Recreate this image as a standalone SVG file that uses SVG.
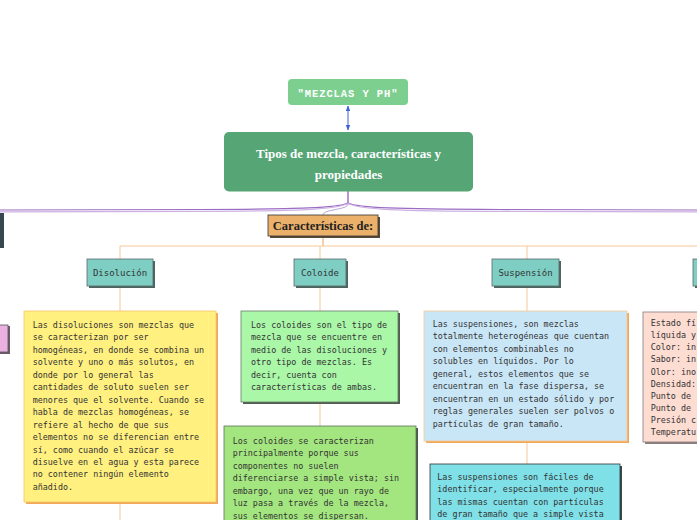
<svg xmlns="http://www.w3.org/2000/svg" width="697" height="520" viewBox="0 0 697 520">
<defs>
<marker id="ah" viewBox="0 0 10 10" refX="9" refY="5" markerWidth="6" markerHeight="6" orient="auto-start-reverse">
<path d="M0,1 L10,5 L0,9 z" fill="#3d62d8"/>
</marker>
<style>
.mono{font-family:"DejaVu Sans Mono","Liberation Mono",monospace;font-size:8.4px;fill:#333}
.lbl{font-family:"DejaVu Sans Mono","Liberation Mono",monospace;font-size:9px;fill:#333;text-anchor:middle}
.serif{font-family:"Liberation Serif","DejaVu Serif",serif;font-weight:bold}
.teal{fill:#7ecec4;stroke:#5a6a68;stroke-width:0.8}
.tsh{fill:#4d6561}
.con{fill:none;stroke:#f8c898;stroke-width:1}
</style>
</defs>
<rect width="697" height="520" fill="#ffffff"/>

<g id="connectors">
<line x1="348" y1="106" x2="348" y2="130" stroke="#3d62d8" stroke-width="1" marker-start="url(#ah)" marker-end="url(#ah)"/>
<path d="M348,191 L348,203" stroke="#8e5cb8" stroke-width="1.3" fill="none"/>
<path d="M348,203 C338,208 300,209 200,209.5 L0,210" stroke="#9c6cc4" stroke-width="1.2" fill="none"/>
<path d="M348,203.5 C336,209.5 300,211 200,211.3 L0,211.8" stroke="#cbb2e2" stroke-width="1.2" fill="none"/>
<path d="M348,203 C358,208 396,209 500,209.5 L697,210" stroke="#9c6cc4" stroke-width="1.2" fill="none"/>
<path d="M348,203.5 C360,209.5 396,211 500,211.3 L697,211.8" stroke="#cbb2e2" stroke-width="1.2" fill="none"/>
<path d="M348,204 C348,210 323,209 323,215" stroke="#a88cd0" stroke-width="0.8" fill="none"/>
<line x1="323" y1="236" x2="323" y2="246" stroke="#f0a050" stroke-width="1"/>
<path class="con" d="M120,259 L120,246 L697,246"/>
<line class="con" x1="320" y1="246" x2="320" y2="259"/>
<line class="con" x1="527" y1="246" x2="527" y2="259"/>
<line class="con" x1="120" y1="286" x2="120" y2="311"/>
<line class="con" x1="320" y1="286" x2="320" y2="311"/>
<line class="con" x1="527" y1="286" x2="527" y2="311"/>
<line class="con" x1="120" y1="503" x2="120" y2="520"/>
<line class="con" x1="320" y1="403" x2="320" y2="426"/>
<line class="con" x1="527" y1="442" x2="527" y2="464"/>
</g>

<g id="title">
<rect x="288" y="79" width="120" height="26" rx="4" fill="#7dcf8f"/>
<text x="348" y="96.5" text-anchor="middle" font-family="Liberation Mono, DejaVu Sans Mono, monospace" font-size="10.5" font-weight="bold" letter-spacing="0.9" fill="#ffffff">"MEZCLAS Y PH"</text>
</g>

<g id="main">
<rect x="224" y="132" width="249" height="59.5" rx="5" fill="#55a575"/>
<text class="serif" x="348.5" y="157.5" text-anchor="middle" font-size="13" fill="#ffffff">Tipos de mezcla, características y</text>
<text class="serif" x="348.5" y="178.5" text-anchor="middle" font-size="13" fill="#ffffff">propiedades</text>
</g>

<g id="left-dark">
<rect x="0" y="213" width="4" height="35" fill="#37474f"/>
</g>

<g id="left-pink">
<rect x="0" y="326" width="10" height="28" fill="#6e5a6c"/>
<rect x="-2" y="325" width="10" height="27" fill="#eab0e0" stroke="#555" stroke-width="0.8"/>
</g>

<g id="caracteristicas">
<rect x="270" y="217" width="110" height="21" fill="#5a4a3a"/>
<rect x="268" y="215" width="110" height="21" fill="#ebb16a" stroke="#333" stroke-width="0.8"/>
<text class="serif" x="323" y="230" text-anchor="middle" font-size="12.5" fill="#222">Características de:</text>
</g>

<g id="disolucion">
<rect class="tsh" x="89" y="261" width="66" height="27"/>
<rect class="teal" x="87" y="259" width="66" height="27"/>
<text class="lbl" x="120" y="275.5">Disolución</text>
</g>

<g id="coloide">
<rect class="tsh" x="296" y="261" width="52" height="27"/>
<rect class="teal" x="294" y="259" width="52" height="27"/>
<text class="lbl" x="320" y="275.5">Coloide</text>
</g>

<g id="suspension">
<rect class="tsh" x="494" y="261" width="67" height="27"/>
<rect class="teal" x="492" y="259" width="67" height="27"/>
<text class="lbl" x="525.5" y="275.5">Suspensión</text>
</g>

<g id="right-label">
<rect class="tsh" x="695" y="261" width="10" height="27"/>
<rect class="teal" x="693" y="259" width="10" height="27"/>
</g>

<g id="disolucion-text">
<rect x="26" y="313" width="192" height="191" fill="#f0a858"/>
<rect x="24" y="311" width="192" height="191" fill="#fff080" stroke="#f5c36b" stroke-width="0.8"/>
<text class="mono">
<tspan x="32.7" y="328">Las disoluciones son mezclas que</tspan>
<tspan x="32.7" y="340.45">se caracterizan por ser</tspan>
<tspan x="32.7" y="352.9">homogéneas, en donde se combina un</tspan>
<tspan x="32.7" y="365.35">solvente y uno o más solutos, en</tspan>
<tspan x="32.7" y="377.8">donde por lo general las</tspan>
<tspan x="32.7" y="390.25">cantidades de soluto suelen ser</tspan>
<tspan x="32.7" y="402.7">menores que el solvente. Cuando se</tspan>
<tspan x="32.7" y="415.15">habla de mezclas homogéneas, se</tspan>
<tspan x="32.7" y="427.6">refiere al hecho de que sus</tspan>
<tspan x="32.7" y="440.05">elementos no se diferencian entre</tspan>
<tspan x="32.7" y="452.5">sí, como cuando el azúcar se</tspan>
<tspan x="32.7" y="464.95">disuelve en el agua y esta parece</tspan>
<tspan x="32.7" y="477.4">no contener ningún elemento</tspan>
<tspan x="32.7" y="489.85">añadido.</tspan>
</text>
</g>

<g id="coloide-text1">
<rect x="243" y="313" width="157" height="91" fill="#4f5f4f"/>
<rect x="241" y="311" width="157" height="91" fill="#aaf7a8" stroke="#6a7a6a" stroke-width="0.8"/>
<text class="mono">
<tspan x="251" y="327.7">Los coloides son el tipo de</tspan>
<tspan x="251" y="340.2">mezcla que se encuentre en</tspan>
<tspan x="251" y="352.7">medio de las disoluciones y</tspan>
<tspan x="251" y="365.2">otro tipo de mezclas. Es</tspan>
<tspan x="251" y="377.7">decir, cuenta con</tspan>
<tspan x="251" y="390.2">características de ambas.</tspan>
</text>
</g>

<g id="coloide-text2">
<rect x="226" y="428" width="192" height="100" fill="#4a5a4a"/>
<rect x="224" y="426" width="192" height="100" fill="#a3e67f" stroke="#5f6f5f" stroke-width="0.8"/>
<text class="mono">
<tspan x="232.7" y="443.5">Los coloides se caracterizan</tspan>
<tspan x="232.7" y="456">principalmente porque sus</tspan>
<tspan x="232.7" y="468.5">componentes no suelen</tspan>
<tspan x="232.7" y="481">diferenciarse a simple vista; sin</tspan>
<tspan x="232.7" y="493.5">embargo, una vez que un rayo de</tspan>
<tspan x="232.7" y="506">luz pasa a través de la mezcla,</tspan>
<tspan x="232.7" y="518.5">sus elementos se dispersan.</tspan>
</text>
</g>

<g id="suspension-text1">
<rect x="426" y="313" width="203" height="130" fill="#f0a858"/>
<rect x="424" y="311" width="203" height="130" fill="#c9e6f7" stroke="#f7c994" stroke-width="0.8"/>
<text class="mono">
<tspan x="432.7" y="326.7">Las suspensiones, son mezclas</tspan>
<tspan x="432.7" y="339.2">totalmente heterogéneas que cuentan</tspan>
<tspan x="432.7" y="351.7">con elementos combinables no</tspan>
<tspan x="432.7" y="364.2">solubles en líquidos. Por lo</tspan>
<tspan x="432.7" y="376.7">general, estos elementos que se</tspan>
<tspan x="432.7" y="389.2">encuentran en la fase dispersa, se</tspan>
<tspan x="432.7" y="401.7">encuentran en un estado sólido y por</tspan>
<tspan x="432.7" y="414.2">reglas generales suelen ser polvos o</tspan>
<tspan x="432.7" y="426.7">partículas de gran tamaño.</tspan>
</text>
</g>

<g id="suspension-text2">
<rect x="432" y="466" width="190" height="60" fill="#3a4a4a"/>
<rect x="430" y="464" width="190" height="60" fill="#7fe0e8" stroke="#333" stroke-width="0.8"/>
<text class="mono">
<tspan x="437.3" y="480">Las suspensiones son fáciles de</tspan>
<tspan x="437.3" y="492.4">identificar, especialmente porque</tspan>
<tspan x="437.3" y="504.8">las mismas cuentan con partículas</tspan>
<tspan x="437.3" y="517.2">de gran tamaño que a simple vista</tspan>
</text>
</g>

<g id="propiedades-text">
<rect x="645" y="314" width="60" height="130" fill="#8a8080"/>
<rect x="643" y="312" width="60" height="130" fill="#fddcd2" stroke="#8a7a7a" stroke-width="0.8"/>
<text class="mono">
<tspan x="650.7" y="326">Estado fí</tspan>
<tspan x="650.7" y="338.15">líquida y</tspan>
<tspan x="650.7" y="350.3">Color: in</tspan>
<tspan x="650.7" y="362.45">Sabor: in</tspan>
<tspan x="650.7" y="374.6">Olor: ino</tspan>
<tspan x="650.7" y="386.75">Densidad:</tspan>
<tspan x="650.7" y="398.9">Punto de</tspan>
<tspan x="650.7" y="411.05">Punto de</tspan>
<tspan x="650.7" y="423.2">Presión c</tspan>
<tspan x="650.7" y="435.35">Temperatu</tspan>
</text>
</g>
</svg>
